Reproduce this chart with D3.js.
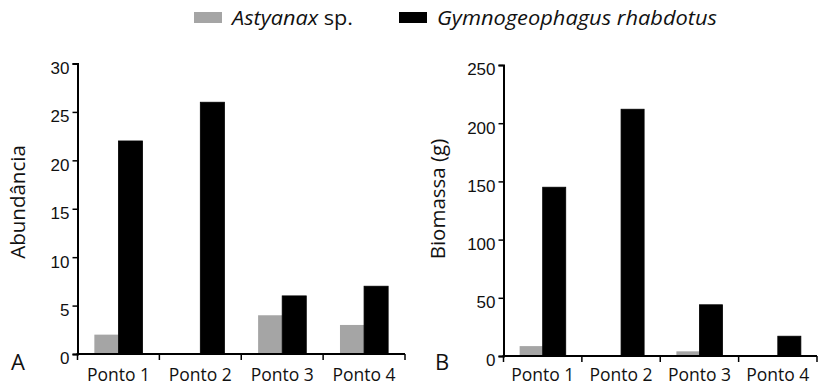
<!DOCTYPE html>
<html>
<head>
<meta charset="utf-8">
<script src="https://cdn.jsdelivr.net/npm/d3@7"></script>
<style>
  html, body { margin: 0; padding: 0; background: #fff; }
  svg { display: block; font-family: "Open Sans", "Noto Sans", sans-serif; }
</style>
</head>
<body>
<svg id="chart" width="820" height="387"></svg>
<script>
// Sampling points and species
const pontos = ["Ponto 1", "Ponto 2", "Ponto 3", "Ponto 4"];
const species = ["Astyanax", "Gymnogeophagus"];
const speciesColors = ["#a5a5a5", "#000000"];

// Panel A: abundance (individuals)
const abundAstyanax = [2, 0, 4, 3];
const abundGymno = [22, 26, 6, 7];
const abundTicks = [0, 5, 10, 15, 20, 25, 30];

// Panel B: biomass (g)
const biomAstyanax = [8.5, 0, 4, 0];
const biomGymno = [145, 212, 44, 17];
const biomTicks = [0, 50, 100, 150, 200, 250];

const svg = d3.select("#chart");

// Legend
const legend = svg.append("g");
const legendItems = [
  { x: 194, color: speciesColors[0], italic: "Astyanax", rest: " sp.", len: 121 },
  { x: 399, color: speciesColors[1], italic: "Gymnogeophagus rhabdotus", rest: "", len: 280 }
];
legendItems.forEach(it => {
  legend.append("rect")
    .attr("x", it.x).attr("y", 12).attr("width", 28).attr("height", 11)
    .attr("fill", it.color);
  const t = legend.append("text")
    .attr("x", it.x + 38).attr("y", 24.5)
    .attr("font-size", 19.5).attr("fill", "#111")
    .attr("textLength", it.len).attr("lengthAdjust", "spacingAndGlyphs");
  t.append("tspan").attr("font-style", "italic").text(it.italic);
  if (it.rest) t.append("tspan").text(it.rest);
});

function panel(opts) {
  const g = svg.append("g");
  const x = d3.scaleBand().domain(pontos).range([opts.x0, opts.x1]).padding(0);
  const y = d3.scaleLinear().domain([0, opts.max]).range([opts.y0, opts.y1]);
  const xs = d3.scaleBand().domain(species).range([0, x.bandwidth()])
    .paddingInner(0).paddingOuter(0.7);

  const rows = pontos.map((p, i) => ({ p, vals: [opts.a[i], opts.b[i]] }));

  // Bars
  const grp = g.selectAll("g.grp").data(rows).join("g")
    .attr("transform", d => `translate(${x(d.p)},0)`);
  grp.selectAll("rect").data(d => d.vals.map((v, k) => ({ v, k })))
    .join("rect")
    .attr("x", d => xs(species[d.k]))
    .attr("width", xs.bandwidth())
    .attr("y", d => y(d.v))
    .attr("height", d => y(0) - y(d.v))
    .attr("fill", d => speciesColors[d.k])
    .attr("stroke", d => d.k === 1 ? "#000" : "none")
    .attr("stroke-width", 0.8);

  // Y axis
  const ya = g.append("g").attr("transform", `translate(${opts.x0},0)`)
    .call(d3.axisLeft(y).tickValues(opts.ticks).tickSize(5).tickPadding(3));
  ya.select(".domain").attr("stroke-width", 2);
  ya.selectAll(".tick line").attr("stroke-width", 1.5);
  ya.selectAll(".tick text").attr("font-size", 17).attr("dy", "0.58em").attr("fill", "#111");

  // X axis: ticks at band boundaries, labels at band centres
  const bounds = [opts.x0].concat(pontos.map(p => x(p) + x.bandwidth()));
  const xa = g.append("g");
  xa.append("line")
    .attr("x1", opts.x0 - 1).attr("x2", opts.x1)
    .attr("y1", y(0)).attr("y2", y(0))
    .attr("stroke", "#000").attr("stroke-width", 2);
  xa.selectAll("line.tk").data(bounds).join("line").attr("class", "tk")
    .attr("x1", d => d).attr("x2", d => d)
    .attr("y1", y(0)).attr("y2", y(0) + 6)
    .attr("stroke", "#000").attr("stroke-width", 1.5);
  xa.selectAll("text").data(pontos).join("text")
    .attr("x", d => x(d) + x.bandwidth() / 2)
    .attr("y", 381)
    .attr("text-anchor", "middle")
    .attr("font-size", 17.5).attr("fill", "#111")
    .text(d => d);

  // Axis title
  g.append("text")
    .attr("transform", `translate(${opts.titleX},${opts.titleY}) rotate(-90)`)
    .attr("text-anchor", "middle")
    .attr("font-size", 20.5).attr("fill", "#111")
    .text(opts.title);

  // Panel letter
  g.append("text")
    .attr("x", opts.letterX).attr("y", 370)
    .attr("font-size", 22).attr("fill", "#111")
    .text(opts.letter);
}

panel({
  x0: 77.5, x1: 405, y0: 354, y1: 63.5, max: 30,
  a: abundAstyanax, b: abundGymno, ticks: abundTicks,
  title: "Abundância", titleX: 25, titleY: 202, letter: "A", letterX: 11
});

panel({
  x0: 503.5, x1: 817, y0: 356, y1: 65, max: 250,
  a: biomAstyanax, b: biomGymno, ticks: biomTicks,
  title: "Biomassa (g)", titleX: 445, titleY: 199, letter: "B", letterX: 435
});
</script>
</body>
</html>
